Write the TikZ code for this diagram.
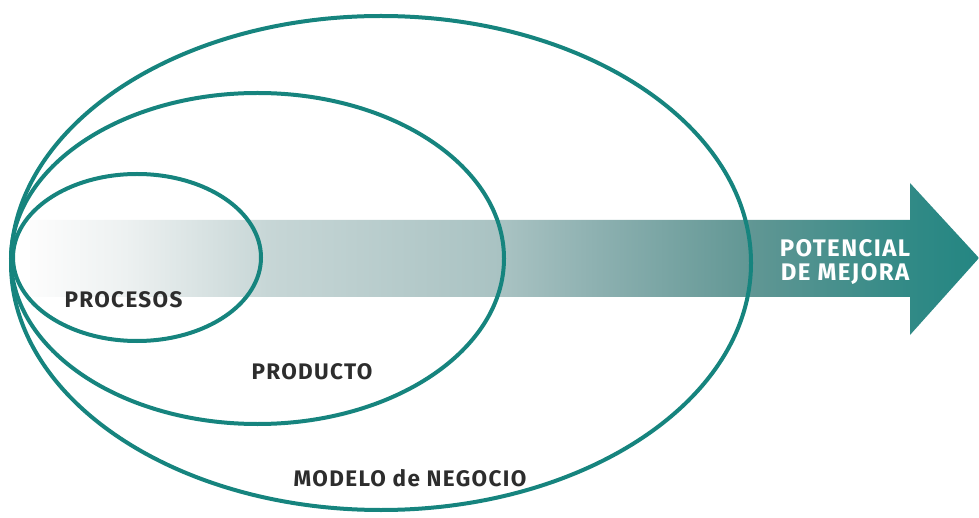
\documentclass[tikz,border=0pt]{standalone}
\usepackage{fontspec}
\setmainfont{Fira Sans}[LetterSpace=6]
\usepackage{xcolor}
\usetikzlibrary{shapes.geometric}

\definecolor{tealline}{RGB}{22,132,126}
\definecolor{tealhead}{RGB}{36,134,130}
\definecolor{labelgray}{RGB}{45,45,45}
\pgfdeclarehorizontalshading{mejora}{100bp}{rgb(0bp)=(0.99,0.99,0.99); rgb(25bp)=(0.99,0.99,0.99); rgb(30bp)=(0.93,0.945,0.945); rgb(37.5bp)=(0.78,0.84,0.84); rgb(50bp)=(0.66,0.76,0.76); rgb(55bp)=(0.55,0.69,0.69); rgb(63bp)=(0.38,0.59,0.58); rgb(71.5bp)=(0.19,0.54,0.525); rgb(75bp)=(0.14,0.525,0.51); rgb(100bp)=(0.14,0.525,0.51)}

\begin{document}
\begin{tikzpicture}[x=1pt,y=-1pt,line width=4pt]
  \tikzstyle{zone}=[ellipse,draw=tealline,inner sep=0pt]
  \tikzstyle{tag}=[text=labelgray,font=\fontsize{22.5}{26}\selectfont\bfseries,inner sep=0pt]
  \tikzstyle{gain}=[text=white,font=\fontsize{24}{24}\selectfont\bfseries,align=center,inner sep=0pt]

  \useasboundingbox (0,0) rectangle (979,518);

  \shade[shading=mejora] (30,220) -- (910,220) -- (910,183) -- (979,258)
    -- (910,335) -- (910,297) -- (30,297) -- cycle;

  \node[zone,minimum width=740pt,minimum height=494pt] (modelo) at (381,263) {};
  \node[zone,minimum width=493pt,minimum height=331pt] (producto) at (257.5,258.5) {};
  \node[zone,minimum width=248pt,minimum height=167pt] (procesos) at (137,257.5) {};

  \node[tag] (procesoslabel) at (123.5,299.5) {PROCESOS};
  \node[tag] (productolabel) at (312,371.5) {PRODUCTO};
  \node[tag] (modelolabel) at (410,478.5) {MODELO de NEGOCIO};
  \node[gain] (potencial) at (845,262) {POTENCIAL\\DE MEJORA};

\end{tikzpicture}
\end{document}
